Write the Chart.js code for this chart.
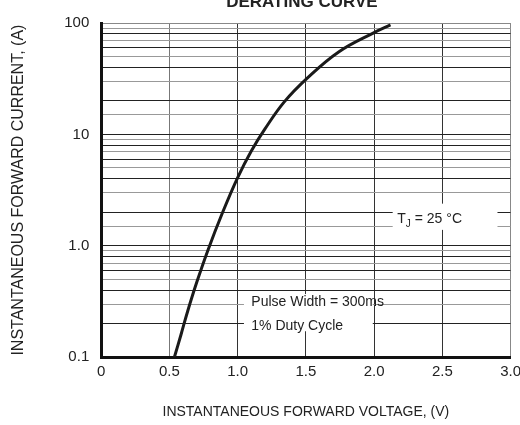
<!DOCTYPE html>
<html>
<head>
<meta charset="utf-8">
<script src="https://cdn.jsdelivr.net/npm/chart.js@4.4.1/dist/chart.umd.min.js"></script>
<style>
    html, body { margin: 0; padding: 0; background: #fff; overflow: hidden; }
    #clip { width: 520px; height: 425px; overflow: hidden; position: relative; }
    #wrap { width: 527px; height: 425px; position: relative; }
</style>
</head>
<body>
<div id="clip"><div id="wrap"><canvas id="curveChart"></canvas></div></div>
<script>
// Curve (V, A)
const voltage = [0.536, 0.585, 0.634, 0.70, 0.78, 0.89, 1.0, 1.1, 1.2, 1.34, 1.51, 1.74, 2.0, 2.12];
const current = [0.1, 0.16, 0.26, 0.47, 0.9, 2.0, 4.1, 7.1, 11.2, 19.5, 32, 55, 82, 96];

const xTickValues = [0, 0.5, 1.0, 1.5, 2.0, 2.5, 3.0];
const xTickLabels = ['0', '0.5', '1.0', '1.5', '2.0', '2.5', '3.0'];
const yTickValues = [0.1, 1, 10, 100];
const yTickLabels = ['0.1', '1.0', '10', '100'];

const narrow = '"Liberation Sans Narrow", "Arial Narrow", "Liberation Sans", Arial, sans-serif';
const sans = '"Liberation Sans", Arial, sans-serif';

function labelFor(values, labels, v) {
    const i = values.findIndex(t => Math.abs(t - v) < 1e-9);
    return i >= 0 ? labels[i] : '';
}

// white boxes + notes on top of the grid, title at the top edge
const notesPlugin = {
    id: 'notes',
    beforeDatasetsDraw(chart) {
        const { ctx, scales: { x, y } } = chart;
        ctx.save();
        ctx.fillStyle = '#fff';
        // T_J box
        let x0 = x.getPixelForValue(2.136), x1 = x.getPixelForValue(2.904);
        let y0 = y.getPixelForValue(2.39), y1 = y.getPixelForValue(1.39);
        ctx.fillRect(x0, y0, x1 - x0, y1 - y0);
        // pulse box
        x0 = x.getPixelForValue(1.046); x1 = x.getPixelForValue(1.99);
        y0 = y.getPixelForValue(0.369); y1 = y.getPixelForValue(0.171);
        ctx.fillRect(x0, y0, x1 - x0, y1 - y0);

        ctx.fillStyle = '#222';
        ctx.textBaseline = 'alphabetic';
        ctx.textAlign = 'left';
        ctx.font = '14px ' + sans;
        let tx = x.getPixelForValue(2.17), ty = y.getPixelForValue(1.6);
        ctx.fillText('T', tx, ty);
        const tw = ctx.measureText('T').width;
        ctx.font = '10px ' + sans;
        ctx.fillText('J', tx + tw, ty + 4);
        const jw = ctx.measureText('J').width;
        ctx.font = '14px ' + sans;
        ctx.fillText(' = 25 \u00B0C', tx + tw + jw, ty);

        tx = x.getPixelForValue(1.1);
        ctx.fillText('Pulse Width = 300ms', tx, y.getPixelForValue(0.29));
        ctx.fillText('1% Duty Cycle', tx, y.getPixelForValue(0.175));

        ctx.font = 'bold 17px ' + sans;
        ctx.textAlign = 'center';
        ctx.fillText('DERATING CURVE', (x.left + x.right) / 2 - 4, 7);
        ctx.restore();
    }
};

new Chart(document.getElementById('curveChart'), {
    type: 'line',
    data: {
        datasets: [{
            data: voltage.map((v, i) => ({ x: v, y: current[i] })),
            borderColor: '#1a1a1a',
            borderWidth: 3,
            pointRadius: 0,
            tension: 0.4,
            fill: false
        }]
    },
    options: {
        responsive: true,
        maintainAspectRatio: false,
        animation: false,
        layout: { padding: { top: 23, right: 0, left: 9, bottom: 0 } },
        plugins: { legend: { display: false }, tooltip: { enabled: false } },
        scales: {
            x: {
                type: 'linear',
                min: 0,
                max: 3,
                afterBuildTicks: s => { s.ticks = xTickValues.map(v => ({ value: v })); },
                ticks: {
                    autoSkip: false,
                    maxRotation: 0,
                    padding: 6,
                    color: '#222',
                    font: { family: narrow, size: 15 },
                    callback: v => labelFor(xTickValues, xTickLabels, v)
                },
                grid: {
                    drawTicks: false,
                    color: c => (c.index === xTickValues.length - 1 ? '#888' : c.index === 1 ? '#777' : '#333'),
                    lineWidth: 1
                },
                border: { display: true, width: 3, color: '#111' },
                title: {
                    display: true,
                    text: 'INSTANTANEOUS FORWARD VOLTAGE, (V)',
                    color: '#222',
                    font: { family: sans, size: 14 },
                    padding: { top: 17, bottom: 4 }
                }
            },
            y: {
                type: 'logarithmic',
                min: 0.1,
                max: 100,
                ticks: {
                    autoSkip: false,
                    padding: 12,
                    color: '#222',
                    font: { family: narrow, size: 15 },
                    callback: v => labelFor(yTickValues, yTickLabels, v)
                },
                grid: {
                    drawTicks: false,
                    color: c => {
                        const v = c.tick ? c.tick.value : 0;
                        if (Math.abs(v - 100) < 1e-9) return '#888';
                        return c.index % 2 ? '#222' : '#999';
                    },
                    lineWidth: 1
                },
                border: { display: true, width: 3, color: '#111' },
                title: {
                    display: true,
                    text: 'INSTANTANEOUS FORWARD CURRENT, (A)',
                    color: '#222',
                    font: { family: sans, size: 16 },
                    padding: { top: 0, bottom: 24 }
                }
            }
        }
    },
    plugins: [notesPlugin]
});
</script>
</body>
</html>
